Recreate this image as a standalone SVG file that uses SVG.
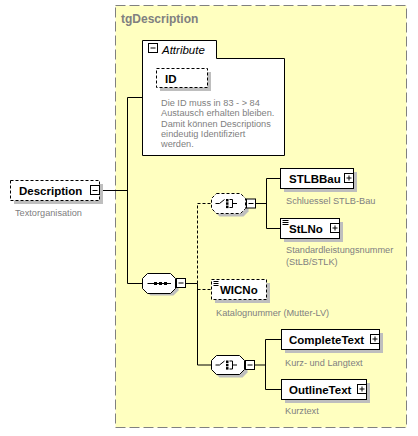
<svg xmlns="http://www.w3.org/2000/svg" width="418" height="436" viewBox="0 0 418 436">
<defs>
<style>
.grp{fill:#FFFFC0;stroke:#808080;stroke-width:1;stroke-dasharray:10,4}
.box{fill:#FFFFFF;stroke:#000000;stroke-width:1}
.dbox{fill:#FFFFFF;stroke:#000000;stroke-width:1;stroke-dasharray:3,2}
.shd{fill:#BEBEBE;stroke:none}
.ln{fill:none;stroke:#000000;stroke-width:1}
.dln{fill:none;stroke:#000000;stroke-width:1;stroke-dasharray:3,2}
.btn{fill:#FFFFFF;stroke:#000000;stroke-width:1}
.lbl{font-family:"Liberation Sans",Arial,sans-serif;font-size:11.5px;font-weight:bold;fill:#000000}
.ttl{font-family:"Liberation Sans",Arial,sans-serif;font-size:12px;font-weight:bold;fill:#808080}
.att{font-family:"Liberation Sans",Arial,sans-serif;font-size:11.5px;font-style:italic;fill:#000000}
.doc{font-family:"Liberation Sans",Arial,sans-serif;font-size:9.2px;fill:#808080}
.dot{fill:#000000;stroke:none}
</style>
</defs>

<g id="tgDescription">
<rect class="grp" x="115.5" y="5.5" width="291" height="422"/>
<text class="ttl" x="121" y="23">tgDescription</text>
</g>

<g id="connectors">
<path class="ln" d="M99.5,190.5 H127.5 M127.5,97.5 V283.5 M127.5,97.5 H142.5 M127.5,283.5 H142.5"/>
<path class="ln" d="M185.5,283.5 H197.5 V365 H211.5"/>
<path class="dln" d="M197.5,283.5 V203.5 H211.5 M197.5,289.5 H211.5"/>
<path class="ln" d="M255.5,203.5 H266.5 M266.5,178.5 V228.5 M266.5,178.5 H280.5 M266.5,228.5 H280.5"/>
<path class="ln" d="M254.5,365 H265.5 M265.5,339.5 V389.5 M265.5,339.5 H281.5 M265.5,389.5 H281.5"/>
</g>

<g id="Description">
<rect class="shd" x="14" y="184" width="89" height="20"/>
<rect class="dbox" x="10.5" y="180.5" width="89" height="20"/>
<rect class="btn" x="90.5" y="185.5" width="9" height="9"/>
<path class="ln" d="M92.5,190.5 H97.5"/>
<text class="lbl" x="19" y="195">Description</text>
<text class="doc" x="15" y="216">Textorganisation</text>
</g>

<g id="Attribute">
<path class="box" d="M142.5,155.5 V40.5 H216.5 V58.5 H284.5 V155.5 Z"/>
<rect class="btn" x="148.5" y="43.5" width="9" height="9"/>
<path class="ln" d="M150.5,48 H155.5"/>
<text class="att" x="162" y="54">Attribute</text>
</g>

<g id="ID">
<rect class="shd" x="160" y="72" width="51" height="19"/>
<rect class="dbox" x="156.5" y="68.5" width="51" height="19"/>
<text class="lbl" x="165" y="82.5">ID</text>
<text class="doc" x="161" y="106">Die ID muss in 83 - &gt; 84</text>
<text class="doc" x="161" y="116.25">Austausch erhalten bleiben.</text>
<text class="doc" x="161" y="126.5">Damit können Descriptions</text>
<text class="doc" x="161" y="136.75">eindeutig Identifiziert</text>
<text class="doc" x="161" y="147">werden.</text>
</g>

<g id="sequence">
<path class="shd" d="M150.5,276.5 H173.5 L178.5,281.5 V290.5 L173.5,295.5 H150.5 L145.5,290.5 V281.5 Z"/>
<path class="box" d="M147.5,273.5 H170.5 L175.5,278.5 V288.5 L170.5,293.5 H147.5 L142.5,288.5 V278.5 Z"/>
<path class="ln" d="M147.5,283.5 H171"/>
<rect class="dot" x="154" y="282" width="3" height="3"/>
<rect class="dot" x="159" y="282" width="3" height="3"/>
<rect class="dot" x="164" y="282" width="3" height="3"/>
<rect class="btn" x="176.5" y="278.5" width="9" height="9"/>
<path class="ln" d="M178.5,283 H183.5"/>
</g>

<g id="choice1">
<path class="shd" d="M219.5,196.5 H243.5 L248.5,201.5 V211.5 L243.5,216.5 H219.5 L214.5,211.5 V201.5 Z"/>
<path class="dbox" d="M216.5,193.5 H240.5 L245.5,198.5 V208.5 L240.5,213.5 H216.5 L211.5,208.5 V198.5 Z"/>
<path class="ln" d="M215.5,203.5 H219.5 L224.5,199.5"/>
<rect class="dot" x="226" y="199" width="2.5" height="2.5"/>
<rect class="dot" x="226" y="202.3" width="2.5" height="2.5"/>
<rect class="dot" x="226" y="205.6" width="2.5" height="2.5"/>
<path class="ln" d="M229.5,199.5 H232.5 V207.5 H229.5 M232.5,203.5 H237"/>
<rect class="btn" x="246.5" y="199" width="9" height="9"/>
<path class="ln" d="M248.5,203.5 H253.5"/>
</g>

<g id="STLBBau">
<rect class="shd" x="284" y="172" width="73" height="20"/>
<rect class="box" x="280.5" y="168.5" width="73" height="20"/>
<rect class="btn" x="344.5" y="173.5" width="9" height="9"/>
<path class="ln" d="M346.5,178 H351.5 M349,175.5 V180.5"/>
<text class="lbl" x="289" y="183">STLBBau</text>
<text class="doc" x="286" y="203.5">Schluessel STLB-Bau</text>
</g>

<g id="StLNo">
<rect class="shd" x="284" y="222" width="59" height="20"/>
<rect class="box" x="280.5" y="218.5" width="59" height="20"/>
<path class="ln" d="M282.5,220.5 H288.5 M282.5,222.5 H288.5 M282.5,224.5 H288.5"/>
<rect class="btn" x="330.5" y="223.5" width="9" height="9"/>
<path class="ln" d="M332.5,228 H337.5 M335,225.5 V230.5"/>
<text class="lbl" x="289" y="233">StLNo</text>
<text class="doc" x="286" y="253">Standardleistungsnummer</text>
<text class="doc" x="286" y="264.5">(StLB/STLK)</text>
</g>

<g id="WICNo">
<rect class="shd" x="215" y="283" width="55" height="20"/>
<rect class="dbox" x="211.5" y="279.5" width="55" height="20"/>
<path class="ln" d="M213.5,281.5 H218.5 M213.5,283.5 H218.5 M213.5,285.5 H218.5"/>
<text class="lbl" x="220" y="294">WICNo</text>
<text class="doc" x="216" y="315.5">Katalognummer (Mutter-LV)</text>
</g>

<g id="choice2">
<path class="shd" d="M219.5,358.5 H242.5 L247.5,363.5 V372.5 L242.5,377.5 H219.5 L214.5,372.5 V363.5 Z"/>
<path class="box" d="M216.5,355.5 H239.5 L244.5,360.5 V369.5 L239.5,374.5 H216.5 L211.5,369.5 V360.5 Z"/>
<path class="ln" d="M215.5,365 H219.5 L224.5,361"/>
<rect class="dot" x="226" y="360.5" width="2.5" height="2.5"/>
<rect class="dot" x="226" y="363.8" width="2.5" height="2.5"/>
<rect class="dot" x="226" y="367.1" width="2.5" height="2.5"/>
<path class="ln" d="M229.5,361 H232.5 V369 H229.5 M232.5,365 H237"/>
<rect class="btn" x="245.5" y="360.5" width="9" height="9"/>
<path class="ln" d="M247.5,365 H252.5"/>
</g>

<g id="CompleteText">
<rect class="shd" x="285" y="333" width="98" height="20"/>
<rect class="box" x="281.5" y="329.5" width="98" height="20"/>
<rect class="btn" x="370.5" y="334.5" width="9" height="9"/>
<path class="ln" d="M372.5,339 H377.5 M375,336.5 V341.5"/>
<text class="lbl" x="289" y="344">CompleteText</text>
<text class="doc" x="285" y="366">Kurz- und Langtext</text>
</g>

<g id="OutlineText">
<rect class="shd" x="285" y="383" width="85" height="20"/>
<rect class="box" x="281.5" y="379.5" width="85" height="20"/>
<rect class="btn" x="357.5" y="384.5" width="9" height="9"/>
<path class="ln" d="M359.5,389 H364.5 M362,386.5 V391.5"/>
<text class="lbl" x="289" y="394">OutlineText</text>
<text class="doc" x="285" y="414">Kurztext</text>
</g>
</svg>
